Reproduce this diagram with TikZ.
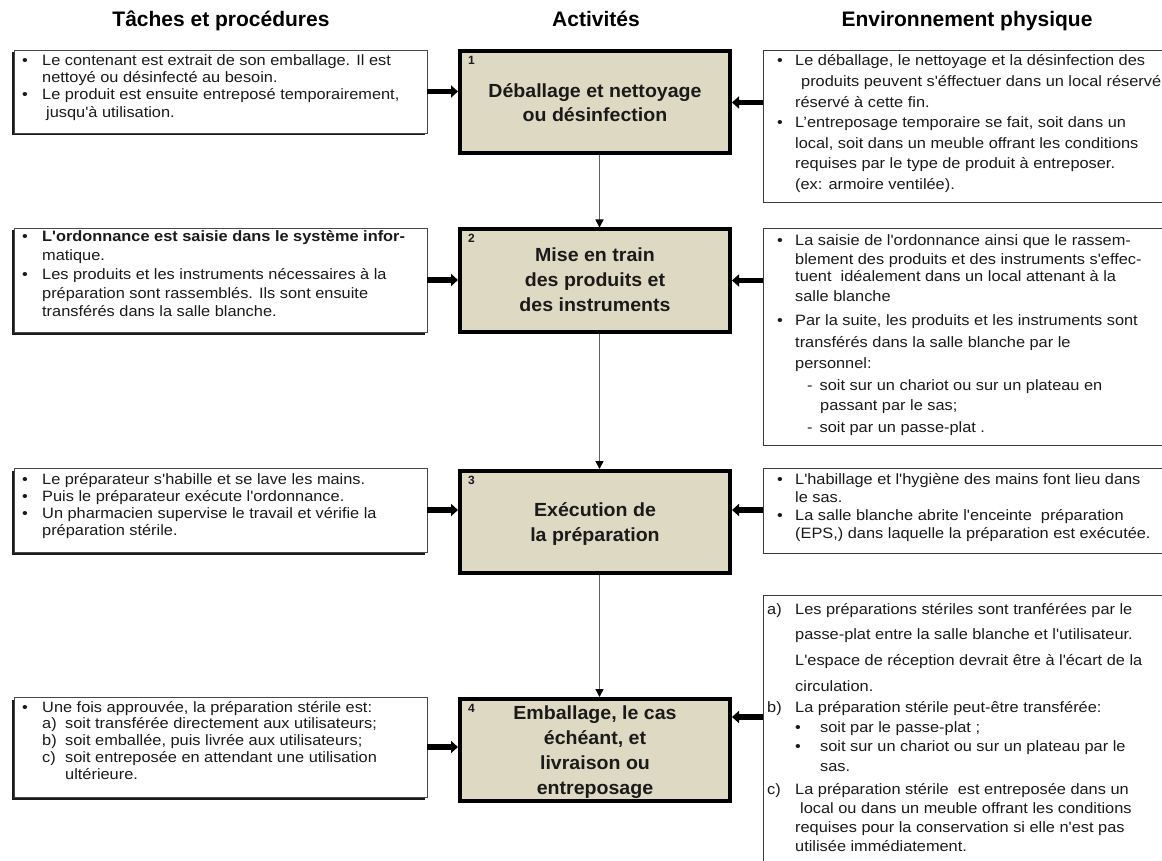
\documentclass[tikz,border=0pt]{standalone}
\usepackage{fontspec}
\setmainfont{Liberation Sans}
\newfontfamily\bodyfont{Liberation Sans}[FakeStretch=1.09]
\newfontfamily\actfont{Liberation Sans}[FakeStretch=1.03]
\usetikzlibrary{arrows.meta,calc,shadows}
\definecolor{boxfill}{HTML}{DDD9C3}
\definecolor{ink}{HTML}{1A1A1A}
\newcommand\bul{\textbullet}
\newcommand\bodysize[1]{\bodyfont\fontsize{15}{#1}\selectfont}
\tikzset{
  leftbox/.style={draw=ink!80, line width=0.9pt, fill=white, inner sep=0pt, rectangle,
    general shadow={fill=ink, shadow xshift=-2.5pt, shadow yshift=-2.5pt}},
  rightbox/.style={draw=ink!85, line width=0.9pt, fill=white, inner sep=0pt, rectangle},
  actbox/.style={draw=black, line width=4pt, fill=boxfill, inner sep=0pt, rectangle,
    minimum width=270pt, minimum height=102pt},
  bodytext/.style={anchor=base west, inner sep=0pt, text=ink},
  acttext/.style={anchor=base, inner sep=0pt, text=ink, align=center,
    font=\actfont\bfseries\fontsize{19}{25}\selectfont},
  numlabel/.style={anchor=base west, inner sep=0pt, text=ink,
    font=\bfseries\fontsize{12}{14}\selectfont},
  headlabel/.style={anchor=base, inner sep=0pt, text=black,
    font=\bfseries\fontsize{21}{24}\selectfont},
  feed/.style={line width=5.5pt, draw=black, -{Triangle[length=7pt,width=12pt]}},
  flow/.style={line width=1.4pt, draw=gray!75!black, -{Triangle[length=8pt,width=8pt,color=black]}}
}
\begin{document}
\begin{tikzpicture}[x=1pt,y=-1pt]
\useasboundingbox (0,0) rectangle (1162,861);

% headers
\node[headlabel] (h1) at (221,27) {Tâches et procédures};
\node[headlabel] (h2) at (596,27) {Activités};
\node[headlabel] (h3) at (967,27) {Environnement physique};

% activity boxes
\node[actbox] (C1) at (595,102.5) {};
\node[actbox] (C2) at (595,280.5) {};
\node[actbox] (C3) at (595,522) {};
\node[actbox] (C4) at (595,750) {};

\node[numlabel] (n1) at ($(C1.north west)+(10,15)$) {1};
\node[numlabel] (n2) at ($(C2.north west)+(10,15)$) {2};
\node[numlabel] (n3) at ($(C3.north west)+(10,15)$) {3};
\node[numlabel] (n4) at ($(C4.north west)+(10,15)$) {4};

\node[acttext] (t1) at (595,98) {\begin{tabular}[t]{@{}c@{}}Déballage et nettoyage\\[-1.7pt] ou désinfection\end{tabular}};
\node[acttext] (t2) at (595,261.5) {\begin{tabular}[t]{@{}c@{}}Mise en train\\ des produits et\\ des instruments\end{tabular}};
\node[acttext] (t3) at (595,516.5) {\begin{tabular}[t]{@{}c@{}}Exécution de\\ la préparation\end{tabular}};
\node[acttext] (t4) at (595,719.5) {\begin{tabular}[t]{@{}c@{}}Emballage, le cas\\ échéant, et\\ livraison ou\\ entreposage\end{tabular}};

% left boxes
\node[leftbox, minimum width=413pt, minimum height=83pt] (L1) at (220.5,91.5) {};
\node[leftbox, minimum width=413pt, minimum height=104pt] (L2) at (220.5,280) {};
\node[leftbox, minimum width=413pt, minimum height=84pt] (L3) at (220.5,510) {};
\node[leftbox, minimum width=413pt, minimum height=100pt] (L4) at (220.5,747) {};

% right boxes
\node[rightbox, minimum width=417pt, minimum height=152pt] (R1) at (971.5,126) {};
\node[rightbox, minimum width=417pt, minimum height=217pt] (R2) at (971.5,336.5) {};
\node[rightbox, minimum width=417pt, minimum height=85pt] (R3) at (971.5,510.5) {};
\node[rightbox, minimum width=417pt, minimum height=285pt] (R4) at (971.5,737.5) {};

% left texts
\node[bodytext, font=\bodysize{17.2}] (lt1) at (22,65.5) {%
\begin{tabular}[t]{@{}p{20pt}@{}l@{}}
\bul & Le contenant est extrait de son emballage. Il est\\
 & nettoyé ou désinfecté au besoin.\\
\bul & Le produit est ensuite entreposé temporairement,\\
 & \hspace{4pt}jusqu'à utilisation.
\end{tabular}};

\node[bodytext, font=\bodysize{18.75}] (lt2) at (22,242) {%
\begin{tabular}[t]{@{}p{20pt}@{}l@{}}
\bul & \textbf{L'ordonnance est saisie dans le système infor-}\\
 & matique.\\
\bul & Les produits et les instruments nécessaires à la\\
 & préparation sont rassemblés. Ils sont ensuite\\
 & transférés dans la salle blanche.
\end{tabular}};

\node[bodytext, font=\bodysize{17.3}] (lt3) at (22,484) {%
\begin{tabular}[t]{@{}p{20pt}@{}l@{}}
\bul & Le préparateur s'habille et se lave les mains.\\
\bul & Puis le préparateur exécute l'ordonnance.\\
\bul & Un pharmacien supervise le travail et vérifie la\\
 & préparation stérile.
\end{tabular}};

\node[bodytext, font=\bodysize{16.75}] (lt4) at (22,712) {%
\begin{tabular}[t]{@{}p{20pt}@{}l@{}}
\bul & Une fois approuvée, la préparation stérile est:\\
 & \makebox[23pt][l]{a)}soit transférée directement aux utilisateurs;\\
 & \makebox[23pt][l]{b)}soit emballée, puis livrée aux utilisateurs;\\
 & \makebox[23pt][l]{c)}soit entreposée en attendant une utilisation\\
 & \hspace{23pt}ultérieure.
\end{tabular}};

% right texts
\node[bodytext, font=\bodysize{20.6}] (rt1) at (777,66) {%
\begin{tabular}[t]{@{}p{18pt}@{}l@{}}
\bul & Le déballage, le nettoyage et la désinfection des\\
 & \hspace{6pt}produits peuvent s'éffectuer dans un local réservé\\
 & réservé à cette fin.\\
\bul & L’entreposage temporaire se fait, soit dans un\\
 & local, soit dans un meuble offrant les conditions\\
 & requises par le type de produit à entreposer.\\
 & (ex: armoire ventilée).
\end{tabular}};

\node[bodytext, font=\bodysize{18}] (rt2) at (777,245.7) {%
\begin{tabular}[t]{@{}p{18pt}@{}l@{}}
\bul & La saisie de l'ordonnance ainsi que le rassem-\\[0.3pt]
 & blement des produits et des instruments s'effec-\\
 & tuent~ idéalement dans un local attenant à la\\[2pt]
 & salle blanche\\[6pt]
\bul & Par la suite, les produits et les instruments sont\\[3pt]
 & transférés dans la salle blanche par le\\[4pt]
 & personnel:\\[4pt]
 & \hspace{12pt}-\hspace{7pt}soit sur un chariot ou sur un plateau en\\[2pt]
 & \hspace{25pt}passant par le sas;\\[3.5pt]
 & \hspace{12pt}-\hspace{7pt}soit par un passe-plat .
\end{tabular}};

\node[bodytext, font=\bodysize{18.3}] (rt3) at (777,484) {%
\begin{tabular}[t]{@{}p{18pt}@{}l@{}}
\bul & L'habillage et l'hygiène des mains font lieu dans\\
 & le sas.\\
\bul & La salle blanche abrite l'enceinte~ préparation\\
 & (EPS,) dans laquelle la préparation est exécutée.
\end{tabular}};

\node[bodytext, font=\bodysize{19}] (rt4) at (767,614) {%
\begin{tabular}[t]{@{}p{28pt}@{}l@{}}
a) & Les préparations stériles sont tranférées par le\\[6.7pt]
 & passe-plat entre la salle blanche et l'utilisateur.\\[6.7pt]
 & L'espace de réception devrait être à l'écart de la\\[6.7pt]
 & circulation.\\[2pt]
b) & La préparation stérile peut-être transférée:\\[1pt]
 & \makebox[25pt][l]{\bul}soit par le passe-plat ;\\[0.5pt]
 & \makebox[25pt][l]{\bul}soit sur un chariot ou sur un plateau par le\\[0.5pt]
 & \hspace{25pt}sas.\\[4pt]
c) & La préparation stérile~ est entreposée dans un\\[0.3pt]
 & \hspace{5pt}local ou dans un meuble offrant les conditions\\[0.3pt]
 & requises pour la conservation si elle n'est pas\\
 & utilisée immédiatement.
\end{tabular}};

% feeding arrows
\coordinate (a4) at (0,717);
\draw[feed] (L1.east) -- (C1.west |- L1.east);
\draw[feed] (L2.east) -- (C2.west |- L2.east);
\draw[feed] (L3.east) -- (C3.west |- L3.east);
\draw[feed] (L4.east) -- (C4.west |- L4.east);
\draw[feed] (R1.west |- C1.east) -- (C1.east);
\draw[feed] (R2.west |- C2.east) -- (C2.east);
\draw[feed] (R3.west |- L3.east) -- (C3.east |- L3.east);
\draw[feed] (R4.west |- a4) -- (C4.east |- a4);

% flow arrows
\draw[flow] ([xshift=4.5pt]C1.south) -- ([xshift=4.5pt]C2.north);
\draw[flow] ([xshift=4.5pt]C2.south) -- ([xshift=4.5pt]C3.north);
\draw[flow] ([xshift=4.5pt]C3.south) -- ([xshift=4.5pt]C4.north);
\end{tikzpicture}
\end{document}
